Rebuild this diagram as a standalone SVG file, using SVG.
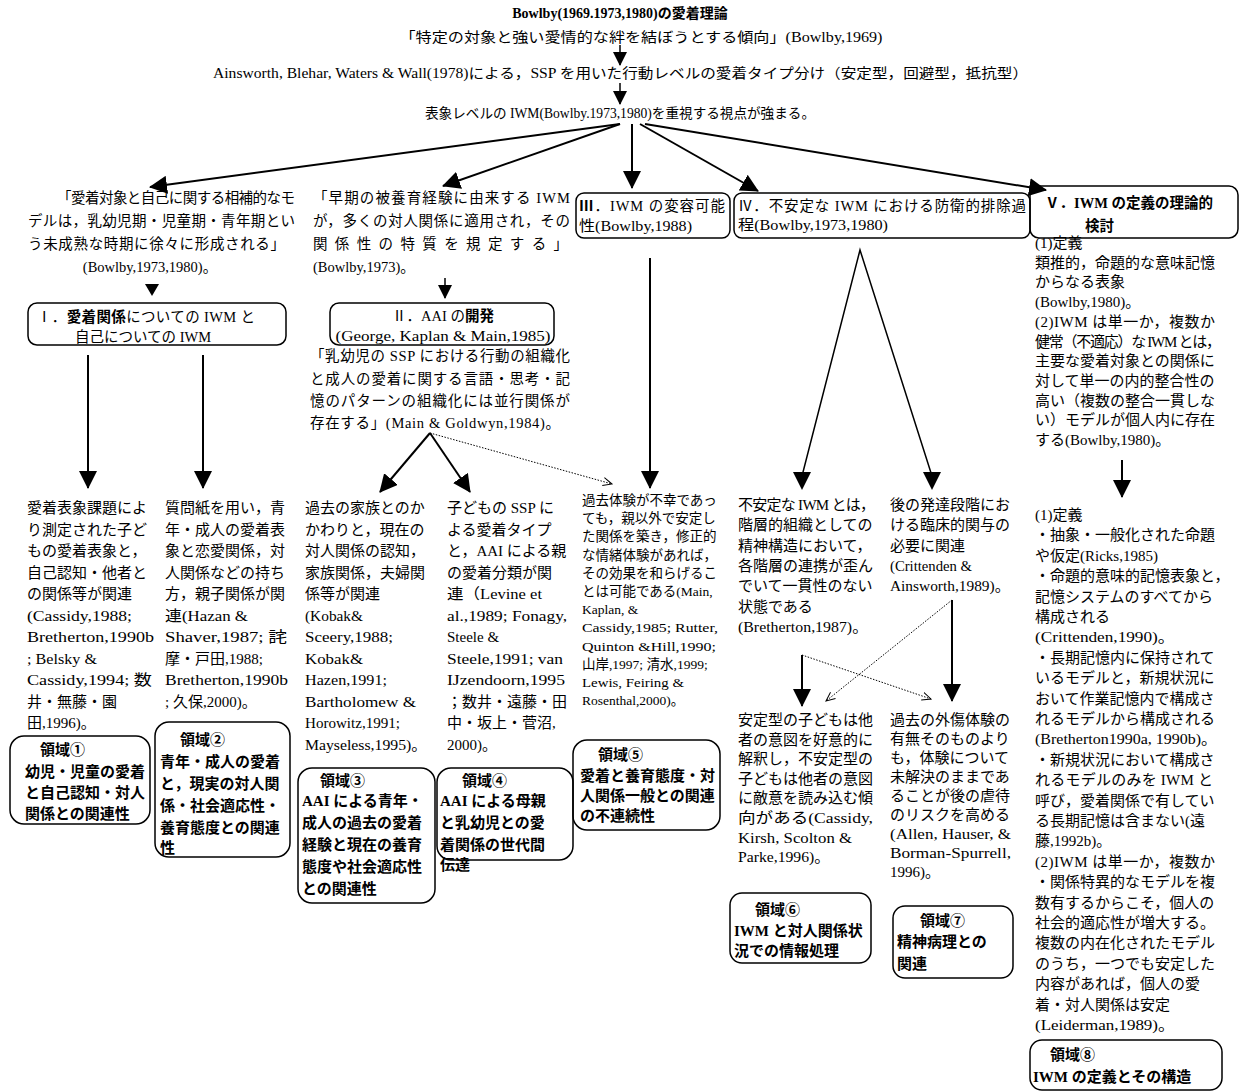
<svg xmlns="http://www.w3.org/2000/svg" width="1240" height="1091" viewBox="0 0 1240 1091">
<style>
text{font-family:'Liberation Serif','Noto Sans CJK JP',serif;font-size:15px;fill:#000}
.s{font-size:13.5px}
.m{font-size:14.5px}
.t{font-size:14px}
.b{font-weight:bold}
.c{text-anchor:middle}
.box{fill:none;stroke:#000;stroke-width:1.5}
.ln{fill:none;stroke:#000;stroke-width:2}
.lt{fill:none;stroke:#000;stroke-width:1.5}
.dot{fill:none;stroke:#000;stroke-width:1;stroke-dasharray:1.5 1.5}
</style>
<defs>
<marker id="ah" viewBox="0 0 14 14" refX="13" refY="7" markerWidth="14" markerHeight="14" markerUnits="userSpaceOnUse" orient="auto"><path d="M0,0 L14,7 L0,14 z" fill="#000"/></marker>
<marker id="ahL" viewBox="0 0 18 18" refX="17" refY="9" markerWidth="18" markerHeight="18" markerUnits="userSpaceOnUse" orient="auto"><path d="M0,0 L18,9 L0,18 z" fill="#000"/></marker>
<marker id="oh" viewBox="0 0 10 10" refX="9" refY="5" markerWidth="10" markerHeight="10" markerUnits="userSpaceOnUse" orient="auto"><path d="M0,1 L9,5 L0,9" fill="none" stroke="#000" stroke-width="1"/></marker>
</defs>

<g id="connectors">
<line class="lt" x1="620" y1="45" x2="620" y2="65" marker-end="url(#ah)"/>
<line class="lt" x1="620" y1="83" x2="620" y2="104" marker-end="url(#ah)"/>
<line class="ln" x1="620" y1="124" x2="150" y2="187" marker-end="url(#ahL)"/>
<line class="ln" x1="620" y1="124" x2="443" y2="186" marker-end="url(#ahL)"/>
<line class="ln" x1="632" y1="124" x2="632" y2="188" marker-end="url(#ahL)"/>
<line class="ln" x1="640" y1="124" x2="758" y2="191" marker-end="url(#ahL)"/>
<line class="ln" x1="645" y1="124" x2="1046" y2="190" marker-end="url(#ahL)"/>
<polygon points="145,284 159,284 152,296" fill="#000"/>
<line class="lt" x1="445" y1="278" x2="445" y2="298" marker-end="url(#ah)"/>
<line class="ln" x1="88" y1="355" x2="88" y2="488" marker-end="url(#ahL)"/>
<line class="ln" x1="203" y1="355" x2="203" y2="488" marker-end="url(#ahL)"/>
<line class="ln" x1="430" y1="433" x2="380" y2="492" marker-end="url(#ahL)"/>
<line class="ln" x1="430" y1="433" x2="470" y2="492" marker-end="url(#ahL)"/>
<line class="dot" x1="430" y1="433" x2="612" y2="484" marker-end="url(#oh)"/>
<line class="ln" x1="650" y1="258" x2="650" y2="488" marker-end="url(#ahL)"/>
<polyline class="lt" points="802,476 860,250 932,476"/>
<path d="M793,472 L811,472 L802,490 z" fill="#000"/>
<path d="M923,472 L941,472 L932,490 z" fill="#000"/>
<line class="ln" x1="802" y1="655" x2="802" y2="706" marker-end="url(#ahL)"/>
<line class="ln" x1="952" y1="600" x2="952" y2="701" marker-end="url(#ahL)"/>
<line class="dot" x1="802" y1="655" x2="931" y2="699" marker-end="url(#oh)"/>
<line class="dot" x1="952" y1="600" x2="826" y2="701" marker-end="url(#oh)"/>
<line class="ln" x1="1122" y1="460" x2="1122" y2="497" marker-end="url(#ahL)"/>
</g>

<g id="n-title">
<text class="t b c" x="620" y="18">Bowlby(1969.1973,1980)の愛着理論</text>
<text class="t c" x="641" y="42" textLength="483" lengthAdjust="spacingAndGlyphs">「特定の対象と強い愛情的な絆を結ぼうとする傾向」(Bowlby,1969)</text>
</g>
<g id="n-ainsworth">
<text class="t" x="213" y="78" textLength="815" lengthAdjust="spacingAndGlyphs">Ainsworth, Blehar, Waters &amp; Wall(1978)による，SSP を用いた行動レベルの愛着タイプ分け（安定型，回避型，抵抗型）</text>
</g>
<g id="n-iwm">
<text class="t" x="425" y="118" textLength="390" lengthAdjust="spacingAndGlyphs">表象レベルの IWM(Bowlby.1973,1980)を重視する視点が強まる。</text>
</g>

<g id="n-quote1">
<text class="m" x="57" y="203" textLength="238" lengthAdjust="spacing">「愛着対象と自己に関する相補的なモ</text>
<text class="m" x="28" y="226" textLength="267" lengthAdjust="spacing">デルは，乳幼児期・児童期・青年期とい</text>
<text class="m" x="28" y="249" textLength="257" lengthAdjust="spacing">う未成熟な時期に徐々に形成される」</text>
<text class="m c" x="150" y="272">(Bowlby,1973,1980)。</text>
</g>
<g id="n-box1">
<rect class="box" x="28" y="303" width="258" height="42" rx="9"/>
<text class="m" x="37" y="322" textLength="218" lengthAdjust="spacing">Ⅰ．<tspan class="b">愛着関係</tspan>についての IWM と</text>
<text class="m c" x="143" y="342">自己についての IWM</text>
</g>
<g id="n-col1a">
<text x="27" y="513">愛着表象課題によ</text>
<text x="27" y="534.5">り測定された子ど</text>
<text x="27" y="556">もの愛着表象と，</text>
<text x="27" y="577.5">自己認知・他者と</text>
<text x="27" y="599">の関係等が関連</text>
<text x="27" y="620.5" textLength="105" lengthAdjust="spacingAndGlyphs">(Cassidy,1988;</text>
<text x="27" y="642" textLength="127" lengthAdjust="spacingAndGlyphs">Bretherton,1990b</text>
<text x="27" y="663.5" textLength="70" lengthAdjust="spacingAndGlyphs">; Belsky &amp;</text>
<text x="27" y="685" textLength="125" lengthAdjust="spacingAndGlyphs">Cassidy,1994; 数</text>
<text x="27" y="706.5">井・無藤・園</text>
<text x="27" y="728">田,1996)。</text>
</g>
<g id="n-col1b">
<text x="165" y="513">質問紙を用い，青</text>
<text x="165" y="534.5">年・成人の愛着表</text>
<text x="165" y="556">象と恋愛関係，対</text>
<text x="165" y="577.5">人関係などの持ち</text>
<text x="165" y="599">方，親子関係が関</text>
<text x="165" y="620.5" textLength="83" lengthAdjust="spacingAndGlyphs">連(Hazan &amp;</text>
<text x="165" y="642" textLength="122" lengthAdjust="spacingAndGlyphs">Shaver,1987; 詫</text>
<text x="165" y="663.5">摩・戸田,1988;</text>
<text x="165" y="685" textLength="123" lengthAdjust="spacingAndGlyphs">Bretherton,1990b</text>
<text x="165" y="706.5">; 久保,2000)。</text>
</g>

<g id="n-quote2">
<text class="m" x="313" y="203" textLength="257" lengthAdjust="spacing">「早期の被養育経験に由来する IWM</text>
<text class="m" x="313" y="226" textLength="257" lengthAdjust="spacing">が，多くの対人関係に適用され，その</text>
<text class="m" x="313" y="249" textLength="255" lengthAdjust="spacing">関係性の特質を規定する」</text>
<text class="m" x="313" y="272">(Bowlby,1973)。</text>
</g>
<g id="n-box2">
<rect class="box" x="330" y="303" width="224" height="42" rx="9"/>
<text class="m c" x="443" y="321">Ⅱ．AAI の<tspan class="b">開発</tspan></text>
<text class="m c" x="443" y="341" textLength="215" lengthAdjust="spacingAndGlyphs">(George, Kaplan &amp; Main,1985)</text>
</g>
<g id="n-quote3">
<text class="m" x="310" y="361" textLength="260" lengthAdjust="spacing">「乳幼児の SSP における行動の組織化</text>
<text class="m" x="310" y="384" textLength="260" lengthAdjust="spacing">と成人の愛着に関する言語・思考・記</text>
<text class="m" x="310" y="406" textLength="260" lengthAdjust="spacing">憶のパターンの組織化には並行関係が</text>
<text class="m" x="310" y="428" textLength="250" lengthAdjust="spacing">存在する」(Main &amp; Goldwyn,1984)。</text>
</g>
<g id="n-col2a">
<text x="305" y="513">過去の家族とのか</text>
<text x="305" y="534.5">かわりと，現在の</text>
<text x="305" y="556">対人関係の認知，</text>
<text x="305" y="577.5">家族関係，夫婦関</text>
<text x="305" y="599">係等が関連</text>
<text x="305" y="620.5" textLength="58" lengthAdjust="spacingAndGlyphs">(Kobak&amp;</text>
<text x="305" y="642" textLength="88" lengthAdjust="spacingAndGlyphs">Sceery,1988;</text>
<text x="305" y="663.5" textLength="58" lengthAdjust="spacingAndGlyphs">Kobak&amp;</text>
<text x="305" y="685" textLength="82" lengthAdjust="spacingAndGlyphs">Hazen,1991;</text>
<text x="305" y="706.5" textLength="111" lengthAdjust="spacingAndGlyphs">Bartholomew &amp;</text>
<text x="305" y="728" textLength="95" lengthAdjust="spacingAndGlyphs">Horowitz,1991;</text>
<text x="305" y="749.5" textLength="122" lengthAdjust="spacingAndGlyphs">Mayseless,1995)。</text>
</g>
<g id="n-col2b">
<text x="447" y="513">子どもの SSP に</text>
<text x="447" y="534.5">よる愛着タイプ</text>
<text x="447" y="556">と，AAI による親</text>
<text x="447" y="577.5">の愛着分類が関</text>
<text x="447" y="599" textLength="95" lengthAdjust="spacingAndGlyphs">連（Levine et</text>
<text x="447" y="620.5" textLength="120" lengthAdjust="spacingAndGlyphs">al.,1989; Fonagy,</text>
<text x="447" y="642">Steele &amp;</text>
<text x="447" y="663.5" textLength="116" lengthAdjust="spacingAndGlyphs">Steele,1991; van</text>
<text x="447" y="685" textLength="118" lengthAdjust="spacingAndGlyphs">IJzendoorn,1995</text>
<text x="447" y="706.5">；数井・遠藤・田</text>
<text x="447" y="728">中・坂上・菅沼,</text>
<text x="447" y="749.5">2000)。</text>
</g>

<g id="n-box3">
<rect class="box" x="576" y="193" width="154" height="45" rx="8"/>
<text class="m" x="579" y="211" textLength="146" lengthAdjust="spacing"><tspan class="b">Ⅲ</tspan>．IWM の変容可能</text>
<text class="m" x="579" y="231" textLength="113" lengthAdjust="spacingAndGlyphs">性(Bowlby,1988)</text>
</g>
<g id="n-col3">
<text class="s" x="582" y="505">過去体験が不幸であっ</text>
<text class="s" x="582" y="523.2">ても，親以外で安定し</text>
<text class="s" x="582" y="541.4">た関係を築き，修正的</text>
<text class="s" x="582" y="559.6">な情緒体験があれば，</text>
<text class="s" x="582" y="577.8">その効果を和らげるこ</text>
<text class="s" x="582" y="596">とは可能である(Main,</text>
<text class="s" x="582" y="614.2">Kaplan, &amp;</text>
<text class="s" x="582" y="632.4" textLength="136" lengthAdjust="spacingAndGlyphs">Cassidy,1985; Rutter,</text>
<text class="s" x="582" y="650.6" textLength="134" lengthAdjust="spacingAndGlyphs">Quinton  &amp;Hill,1990;</text>
<text class="s" x="582" y="668.8">山岸,1997; 清水,1999;</text>
<text class="s" x="582" y="687" textLength="102" lengthAdjust="spacingAndGlyphs">Lewis, Feiring &amp;</text>
<text class="s" x="582" y="705.2">Rosenthal,2000)。</text>
</g>

<g id="n-box4">
<rect class="box" x="734" y="193" width="296" height="45" rx="8"/>
<text class="m" x="738" y="211" textLength="288" lengthAdjust="spacing">Ⅳ．不安定な IWM における防衛的排除過</text>
<text class="m" x="738" y="230" textLength="150" lengthAdjust="spacingAndGlyphs">程(Bowlby,1973,1980)</text>
</g>
<g id="n-col4a">
<text x="738" y="510" textLength="137" lengthAdjust="spacing">不安定な IWM とは，</text>
<text x="738" y="530.3">階層的組織としての</text>
<text x="738" y="550.6">精神構造において，</text>
<text x="738" y="570.9">各階層の連携が歪ん</text>
<text x="738" y="591.2">でいて一貫性のない</text>
<text x="738" y="611.5">状態である</text>
<text x="738" y="631.8" textLength="130" lengthAdjust="spacingAndGlyphs">(Bretherton,1987)。</text>
</g>
<g id="n-col4b">
<text x="890" y="510">後の発達段階にお</text>
<text x="890" y="530.3">ける臨床的関与の</text>
<text x="890" y="550.6">必要に関連</text>
<text x="890" y="570.9" textLength="82" lengthAdjust="spacingAndGlyphs">(Crittenden &amp;</text>
<text x="890" y="591.2" textLength="120" lengthAdjust="spacingAndGlyphs">Ainsworth,1989)。</text>
</g>
<g id="n-col4c">
<text x="738" y="725">安定型の子どもは他</text>
<text x="738" y="744.6">者の意図を好意的に</text>
<text x="738" y="764.2">解釈し，不安定型の</text>
<text x="738" y="783.8">子どもは他者の意図</text>
<text x="738" y="803.4">に敵意を読み込む傾</text>
<text x="738" y="823" textLength="135" lengthAdjust="spacingAndGlyphs">向がある(Cassidy,</text>
<text x="738" y="842.6" textLength="114" lengthAdjust="spacingAndGlyphs">Kirsh, Scolton &amp;</text>
<text x="738" y="862.2" textLength="92" lengthAdjust="spacingAndGlyphs">Parke,1996)。</text>
</g>
<g id="n-col4d">
<text x="890" y="725">過去の外傷体験の</text>
<text x="890" y="744">有無そのものより</text>
<text x="890" y="763">も，体験について</text>
<text x="890" y="782">未解決のままであ</text>
<text x="890" y="801">ることが後の虐待</text>
<text x="890" y="820">のリスクを高める</text>
<text x="890" y="839" textLength="121" lengthAdjust="spacingAndGlyphs">(Allen, Hauser, &amp;</text>
<text x="890" y="858" textLength="121" lengthAdjust="spacingAndGlyphs">Borman-Spurrell,</text>
<text x="890" y="877">1996)。</text>
</g>

<g id="n-box5">
<rect class="box" x="1030" y="186" width="208" height="52" rx="9"/>
<text class="m b" x="1045" y="208">Ⅴ．IWM の定義の理論的</text>
<text class="m b" x="1085" y="231">検討</text>
</g>
<g id="n-col5a">
<text x="1035" y="248">(1)定義</text>
<text x="1035" y="267.7">類推的，命題的な意味記憶</text>
<text x="1035" y="287.4">からなる表象</text>
<text x="1035" y="307.1">(Bowlby,1980)。</text>
<text x="1035" y="326.8" textLength="180" lengthAdjust="spacing">(2)IWM は単一か，複数か</text>
<text x="1035" y="346.5" textLength="186" lengthAdjust="spacing">健常（不適応）な IWM とは，</text>
<text x="1035" y="366.2">主要な愛着対象との関係に</text>
<text x="1035" y="385.9">対して単一の内的整合性の</text>
<text x="1035" y="405.6">高い（複数の整合一貫しな</text>
<text x="1035" y="425.3">い）モデルが個人内に存在</text>
<text x="1035" y="445">する(Bowlby,1980)。</text>
</g>
<g id="n-col5b">
<text x="1035" y="520">(1)定義</text>
<text x="1035" y="540.4">・抽象・一般化された命題</text>
<text x="1035" y="560.8">や仮定(Ricks,1985)</text>
<text x="1035" y="581.2">・命題的意味的記憶表象と，</text>
<text x="1035" y="601.6">記憶システムのすべてから</text>
<text x="1035" y="622">構成される</text>
<text x="1035" y="642.4" textLength="140" lengthAdjust="spacingAndGlyphs">(Crittenden,1990)。</text>
<text x="1035" y="662.8">・長期記憶内に保持されて</text>
<text x="1035" y="683.2">いるモデルと，新規状況に</text>
<text x="1035" y="703.6">おいて作業記憶内で構成さ</text>
<text x="1035" y="724">れるモデルから構成される</text>
<text x="1035" y="744.4" textLength="182" lengthAdjust="spacingAndGlyphs">(Bretherton1990a, 1990b)。</text>
<text x="1035" y="764.8">・新規状況において構成さ</text>
<text x="1035" y="785.2" textLength="178" lengthAdjust="spacing">れるモデルのみを IWM と</text>
<text x="1035" y="805.6">呼び，愛着関係で有してい</text>
<text x="1035" y="826">る長期記憶は含まない(遠</text>
<text x="1035" y="846.4">藤,1992b)。</text>
<text x="1035" y="866.8" textLength="180" lengthAdjust="spacing">(2)IWM は単一か，複数か</text>
<text x="1035" y="887.2">・関係特異的なモデルを複</text>
<text x="1035" y="907.6">数有するからこそ，個人の</text>
<text x="1035" y="928">社会的適応性が増大する。</text>
<text x="1035" y="948.4">複数の内在化されたモデル</text>
<text x="1035" y="968.8">のうち，一つでも安定した</text>
<text x="1035" y="989.2">内容があれば，個人の愛</text>
<text x="1035" y="1009.6">着・対人関係は安定</text>
<text x="1035" y="1030" textLength="140" lengthAdjust="spacingAndGlyphs">(Leiderman,1989)。</text>
</g>

<g id="n-d1">
<rect class="box" x="10" y="736" width="140" height="88" rx="14"/>
<text class="b" x="40" y="755">領域①</text>
<text class="b" x="25" y="777">幼児・児童の愛着</text>
<text class="b" x="25" y="798">と自己認知・対人</text>
<text class="b" x="25" y="819">関係との関連性</text>
</g>
<g id="n-d2">
<rect class="box" x="155" y="722" width="135" height="135" rx="14"/>
<text class="b" x="180" y="745">領域②</text>
<text class="b" x="160" y="767">青年・成人の愛着</text>
<text class="b" x="160" y="789">と，現実の対人関</text>
<text class="b" x="160" y="811">係・社会適応性・</text>
<text class="b" x="160" y="833">養育態度との関連</text>
<text class="b" x="160" y="853">性</text>
</g>
<g id="n-d3">
<rect class="box" x="298" y="768" width="137" height="135" rx="14"/>
<text class="b" x="320" y="786">領域③</text>
<text class="b" x="302" y="806">AAI による青年・</text>
<text class="b" x="302" y="828">成人の過去の愛着</text>
<text class="b" x="302" y="850">経験と現在の養育</text>
<text class="b" x="302" y="872">態度や社会適応性</text>
<text class="b" x="302" y="894">との関連性</text>
</g>
<g id="n-d4">
<rect class="box" x="437" y="768" width="136" height="92" rx="14"/>
<text class="b" x="462" y="786">領域④</text>
<text class="b" x="440" y="806">AAI による母親</text>
<text class="b" x="440" y="828">と乳幼児との愛</text>
<text class="b" x="440" y="850">着関係の世代間</text>
<text class="b" x="440" y="870">伝達</text>
</g>
<g id="n-d5">
<rect class="box" x="573" y="740" width="147" height="90" rx="14"/>
<text class="b" x="598" y="760">領域⑤</text>
<text class="b" x="580" y="781">愛着と養育態度・対</text>
<text class="b" x="580" y="801">人関係一般との関連</text>
<text class="b" x="580" y="821">の不連続性</text>
</g>
<g id="n-d6">
<rect class="box" x="730" y="893" width="141" height="70" rx="12"/>
<text class="b" x="755" y="915">領域⑥</text>
<text class="b" x="734" y="936">IWM と対人関係状</text>
<text class="b" x="734" y="956">況での情報処理</text>
</g>
<g id="n-d7">
<rect class="box" x="893" y="906" width="120" height="72" rx="12"/>
<text class="b" x="920" y="926">領域⑦</text>
<text class="b" x="897" y="947">精神病理との</text>
<text class="b" x="897" y="969">関連</text>
</g>
<g id="n-d8">
<rect class="box" x="1030" y="1040" width="192" height="50" rx="12"/>
<text class="b" x="1050" y="1060">領域⑧</text>
<text class="b" x="1033" y="1082">IWM の定義とその構造</text>
</g>
</svg>
